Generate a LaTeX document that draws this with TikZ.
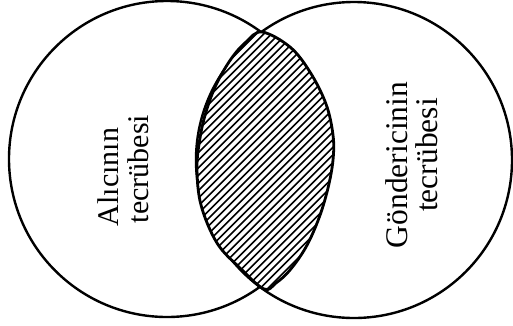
\documentclass[tikz,border=0pt]{standalone}
\usepackage{fontspec}
\setmainfont{Liberation Serif}
\begin{document}
\begin{tikzpicture}[x=1pt,y=-1pt,
  ring/.style={circle, draw=black, line width=2.4pt, minimum size=316pt, inner sep=0pt, outer sep=0pt},
  lensline/.style={line width=2.8pt, line join=round},
  hatch/.style={line width=1.6pt},
  lblL/.style={font=\fontsize{30}{30}\selectfont, rotate=90, anchor=base, inner sep=0pt},
  lblR/.style={font=\fontsize{31.5}{31.5}\selectfont, rotate=90, anchor=base, inner sep=0pt}]
\useasboundingbox[fill=white] (0,0) rectangle (513,325);
\node[ring] (L) at (167,159) {};
\node[ring] (R) at (354,160) {};
\def\lenspath{plot[smooth cycle, tension=0.6] coordinates {
  (262,32) (290,47) (310,72) (326,104) (333,135) (333,160) (328,188)
  (319,218) (306,247) (290,270) (276,283) (264,289)
  (240,268) (217,243) (201,205) (197,168) (200,138) (206,112)
  (216,85) (231,59) (246,42)}}
\fill[white] \lenspath;
\begin{scope}
  \clip \lenspath;
  \foreach \c in {0,...,40} {
    \draw[hatch] (150,{125+7.6*\c}) -- (400,{125+7.6*\c-250});
  }
\end{scope}
\draw[lensline] \lenspath;
\node[lblL] (a1) at (118,177) {Alıcının};
\node[lblL] (a2) at (148,169) {tecrübesi};
\node[lblR] (g1) at (407,165) {Göndericinin};
\node[lblR] (g2) at (437,155) {tecrübesi};
\end{tikzpicture}
\end{document}
